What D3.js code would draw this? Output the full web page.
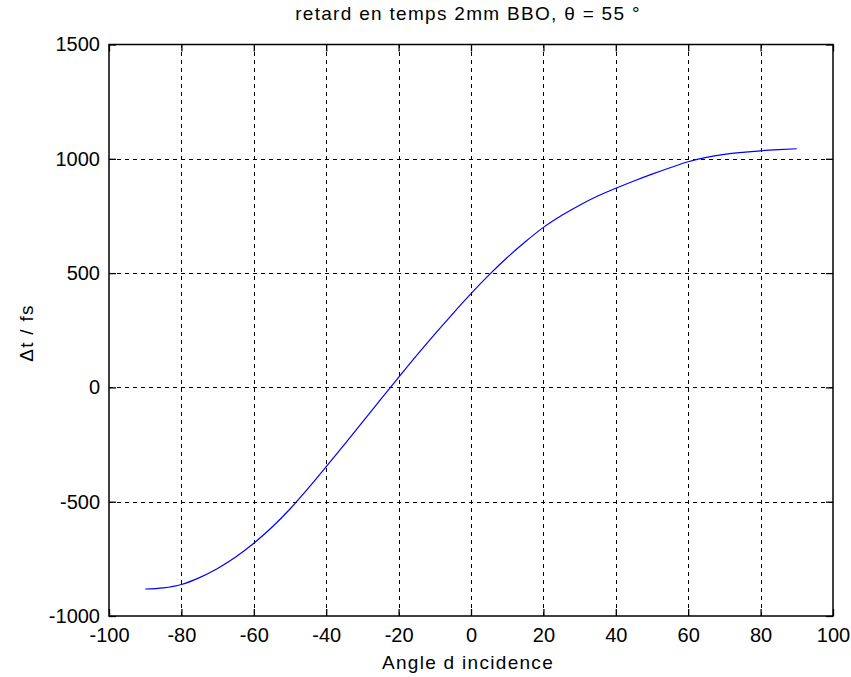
<!DOCTYPE html>
<html>
<head>
<meta charset="utf-8">
<script src="https://cdn.jsdelivr.net/npm/d3@7"></script>
<style>
  html, body { margin: 0; padding: 0; background: #fff; }
  svg text { font-family: "Liberation Sans", Arial, sans-serif; fill: #000; }
</style>
</head>
<body>
<svg id="chart" width="851" height="677"></svg>
<script>
// Incidence angle (degrees) and time delay (fs) through 2 mm of BBO
const angles = [-90, -85, -80, -75, -70, -65, -60, -55, -50, -45, -40, -35, -30, -25, -20, -15, -10, -5,
                0, 5, 10, 15, 20, 25, 30, 35, 40, 45, 50, 55, 60, 65, 70, 75, 80, 85, 90];
const delays = [-882, -877, -862, -832, -792, -742, -682, -612, -532, -442, -347, -250, -152, -54, 44, 140, 233, 323,
                410, 492, 568, 637, 700, 752, 797, 837, 871, 903, 933, 961, 987, 1006, 1019, 1028, 1035, 1040, 1044];
const xTicks = [-100, -80, -60, -40, -20, 0, 20, 40, 60, 80, 100];
const yTicks = [-1000, -500, 0, 500, 1000, 1500];
const titleText = "retard en temps 2mm BBO, \u03b8 = 55 \u00b0";
const xLabel = "Angle d incidence";
const yLabel = "\u0394t / fs";

const plotLeft = 109, plotRight = 833, plotTop = 44.5, plotBottom = 616;
const svg = d3.select("#chart");

const x = d3.scaleLinear().domain([-100, 100]).range([plotLeft, plotRight]);
const y = d3.scaleLinear().domain([-1000, 1500]).range([plotBottom, plotTop]);

const labelSize = 19, labelSpacing = 1.3, tickSize = 20;
const plainNumber = d => String(d);

// dashed grid
const grid = svg.append("g").attr("stroke", "#000").attr("stroke-width", 1)
  .attr("stroke-dasharray", "4,4").attr("shape-rendering", "crispEdges");
grid.selectAll("line.gx").data(xTicks.slice(1, -1)).join("line")
  .attr("x1", d => Math.round(x(d)) + 0.5).attr("x2", d => Math.round(x(d)) + 0.5)
  .attr("y1", plotBottom).attr("y2", plotTop);
grid.selectAll("line.gy").data(yTicks.slice(1, -1)).join("line")
  .attr("y1", d => Math.round(y(d)) + 0.5).attr("y2", d => Math.round(y(d)) + 0.5)
  .attr("x1", plotLeft).attr("x2", plotRight);

// axes with inward ticks on all four sides
const tickLen = 7;
function styleAxis(g) {
  g.select(".domain").remove();
  g.selectAll(".tick line").attr("stroke", "#000").attr("stroke-width", 1.3);
  g.selectAll(".tick text").attr("font-size", tickSize).attr("font-family", null).attr("fill", "#000");
}
svg.append("g").attr("transform", `translate(0,${plotBottom})`)
  .call(d3.axisBottom(x).tickValues(xTicks).tickFormat(plainNumber)
    .tickSizeInner(-tickLen).tickSizeOuter(0).tickPadding(12))
  .call(styleAxis);
svg.append("g").attr("transform", `translate(0,${plotTop})`)
  .call(d3.axisTop(x).tickValues(xTicks).tickSizeInner(-tickLen).tickSizeOuter(0).tickFormat(""))
  .call(styleAxis);
svg.append("g").attr("transform", `translate(${plotLeft},0)`)
  .call(d3.axisLeft(y).tickValues(yTicks).tickFormat(plainNumber)
    .tickSizeInner(-tickLen).tickSizeOuter(0).tickPadding(9))
  .call(styleAxis);
svg.append("g").attr("transform", `translate(${plotRight},0)`)
  .call(d3.axisRight(y).tickValues(yTicks).tickSizeInner(-tickLen).tickSizeOuter(0).tickFormat(""))
  .call(styleAxis);

// frame
svg.append("rect").attr("x", plotLeft).attr("y", plotTop)
  .attr("width", plotRight - plotLeft).attr("height", plotBottom - plotTop)
  .attr("fill", "none").attr("stroke", "#000").attr("stroke-width", 1.5);

// curve
const pts = angles.map((a, i) => [a, delays[i]]);
svg.append("path").datum(pts)
  .attr("fill", "none").attr("stroke", "#0000ff").attr("stroke-width", 1.2)
  .attr("d", d3.line().x(d => x(d[0])).y(d => y(d[1])).curve(d3.curveMonotoneX));

// title and axis labels
svg.append("text").attr("x", 468).attr("y", 20).attr("text-anchor", "middle")
  .attr("font-size", labelSize).attr("letter-spacing", labelSpacing).text(titleText);
svg.append("text").attr("x", 468).attr("y", 669).attr("text-anchor", "middle")
  .attr("font-size", labelSize).attr("letter-spacing", labelSpacing).text(xLabel);
svg.append("text").attr("transform", "translate(33,333) rotate(-90)").attr("text-anchor", "middle")
  .attr("font-size", labelSize).attr("letter-spacing", labelSpacing).text(yLabel);
</script>
</body>
</html>
